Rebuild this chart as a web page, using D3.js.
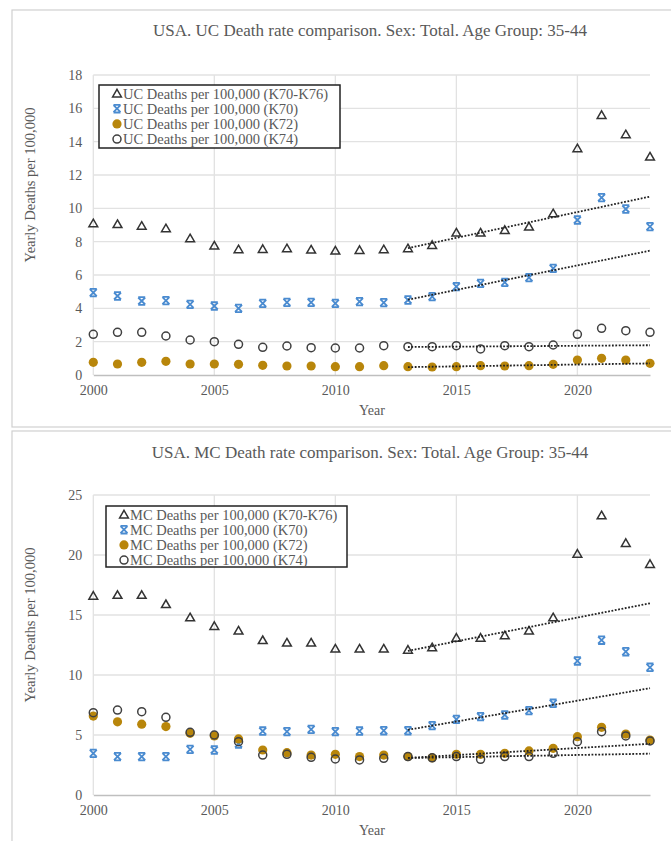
<!DOCTYPE html>
<html>
<head>
<meta charset="utf-8">
<script src="https://cdn.jsdelivr.net/npm/d3@7/dist/d3.min.js"></script>
<style>
  html, body { margin: 0; padding: 0; background: #fff; }
  svg { display: block; }
  text { font-family: "Liberation Serif", "DejaVu Serif", serif; }
</style>
</head>
<body>
<svg id="chart" width="671" height="841"></svg>
<script>
// ---------------- DATA ----------------
const years = [2000,2001,2002,2003,2004,2005,2006,2007,2008,2009,2010,2011,
               2012,2013,2014,2015,2016,2017,2018,2019,2020,2021,2022,2023];

// UC chart
const ucK70K76 = [9.1,9.05,8.95,8.8,8.2,7.76,7.54,7.56,7.6,7.52,7.46,7.5,
                  7.54,7.6,7.8,8.54,8.54,8.7,8.9,9.7,13.6,15.6,14.44,13.1];
const ucK70    = [4.94,4.74,4.44,4.46,4.24,4.14,4.0,4.3,4.36,4.36,4.3,4.4,
                  4.34,4.5,4.7,5.3,5.5,5.56,5.84,6.4,9.3,10.64,9.96,8.9];
const ucK72    = [0.76,0.66,0.76,0.82,0.66,0.66,0.64,0.58,0.54,0.54,0.5,0.5,
                  0.56,0.5,0.48,0.5,0.56,0.54,0.56,0.64,0.9,1.0,0.9,0.7];
const ucK74    = [2.44,2.56,2.56,2.34,2.1,2.0,1.84,1.66,1.74,1.64,1.62,1.62,
                  1.76,1.7,1.7,1.76,1.56,1.76,1.7,1.8,2.44,2.8,2.66,2.56];

// MC chart
const mcK70K76 = [16.6,16.67,16.67,15.9,14.8,14.08,13.7,12.9,12.7,12.7,12.2,12.2,
                  12.2,12.1,12.3,13.1,13.1,13.3,13.7,14.8,20.1,23.3,21.0,19.25];
const mcK70    = [3.47,3.2,3.2,3.2,3.8,3.75,4.25,5.33,5.28,5.47,5.28,5.33,
                  5.36,5.36,5.78,6.3,6.53,6.67,7.03,7.64,11.17,12.9,11.94,10.64];
const mcK72    = [6.58,6.1,5.9,5.7,5.14,4.92,4.67,3.75,3.53,3.33,3.39,3.2,
                  3.33,3.2,3.1,3.39,3.39,3.47,3.67,3.89,4.86,5.64,5.08,4.58];
const mcK74    = [6.86,7.08,6.94,6.47,5.22,5.0,4.44,3.33,3.39,3.14,3.0,2.92,
                  3.06,3.2,3.1,3.2,2.97,3.2,3.2,3.47,4.44,5.28,4.92,4.5];

const xTicks = [2000,2005,2010,2015,2020];
const ucYTicks = [0,2,4,6,8,10,12,14,16,18];
const mcYTicks = [0,5,10,15,20,25];

const ucTitle = "USA. UC Death rate comparison. Sex: Total. Age Group: 35-44";
const mcTitle = "USA. MC Death rate comparison. Sex: Total. Age Group: 35-44";
const ucNames = ["UC Deaths per 100,000 (K70-K76)","UC Deaths per 100,000 (K70)",
                 "UC Deaths per 100,000 (K72)","UC Deaths per 100,000 (K74)"];
const mcNames = ["MC Deaths per 100,000 (K70-K76)","MC Deaths per 100,000 (K70)",
                 "MC Deaths per 100,000 (K72)","MC Deaths per 100,000 (K74)"];
const trendStart = 2013, trendFitEnd = 2019, trendEnd = 2023;

// ---------------- DRAW ----------------
const svg = d3.select("#chart");
const markerKinds = ["triangle","star","dot","circle"];
const BLUE = "#4a8bd0", GOLD = "#b8860b";

function linFit(xs, ys) {
  const n = xs.length, mx = d3.mean(xs), my = d3.mean(ys);
  let num = 0, den = 0;
  for (let i = 0; i < n; i++) { num += (xs[i]-mx)*(ys[i]-my); den += (xs[i]-mx)**2; }
  const b = num/den; return x => my + b*(x-mx);
}

function drawMarker(g, kind, x, y) {
  if (kind === "triangle") {
    g.append("path").attr("d", `M${x},${y-4.2}L${x+4.4},${y+3.4}L${x-4.4},${y+3.4}Z`)
      .attr("fill","none").attr("stroke","#333").attr("stroke-width",1.5);
  } else if (kind === "star") {
    g.append("path").attr("d",
      `M${x-3.5},${y-3.5}L${x+3.5},${y+3.5}M${x+3.5},${y-3.5}L${x-3.5},${y+3.5}` +
      `M${x-3.5},${y-3.8}L${x+3.5},${y-3.8}M${x-3.5},${y+3.8}L${x+3.5},${y+3.8}`)
      .attr("fill","none").attr("stroke",BLUE).attr("stroke-width",1.8);
  } else if (kind === "dot") {
    g.append("circle").attr("cx",x).attr("cy",y).attr("r",4.6).attr("fill",GOLD);
  } else {
    g.append("circle").attr("cx",x).attr("cy",y).attr("r",4).attr("fill","none")
      .attr("stroke","#404040").attr("stroke-width",1.5);
  }
}

function drawChart(cfg) {
  const g = svg.append("g");
  // frame
  g.append("rect").attr("x",cfg.frame[0]).attr("y",cfg.frame[1])
    .attr("width",cfg.frame[2]).attr("height",cfg.frame[3])
    .attr("fill","#fff").attr("stroke","#d0d0d0").attr("stroke-width",1.2);

  const x = d3.scaleLinear().domain([2000,2023]).range([93.3,650]);
  const y = d3.scaleLinear().domain([0,cfg.yMax]).range([cfg.y0,cfg.yTop]);

  // grid
  const grid = g.append("g");
  grid.selectAll(".hg").data(cfg.yTicks.filter(v=>v>0)).join("line")
    .attr("x1",x(2000)).attr("x2",x(2023)).attr("y1",d=>y(d)).attr("y2",d=>y(d))
    .attr("stroke","#e2e2e2").attr("stroke-width",1.3);
  grid.selectAll(".vg").data(xTicks).join("line")
    .attr("x1",d=>x(d)).attr("x2",d=>x(d)).attr("y1",y(0)).attr("y2",y(cfg.yMax))
    .attr("stroke","#e2e2e2").attr("stroke-width",1.3);

  // axes
  const xAxis = g.append("g").attr("transform",`translate(0,${y(0)})`)
    .call(d3.axisBottom(x).tickValues(xTicks).tickFormat(d3.format("d")).tickSize(0).tickPadding(10));
  xAxis.select(".domain").attr("stroke","#bfbfbf").attr("stroke-width",1.3);
  xAxis.selectAll("text").attr("font-size",14).attr("fill","#595959")
    .attr("font-family","'Liberation Serif', serif");
  const yAxis = g.append("g").attr("transform",`translate(${x(2000)},0)`)
    .call(d3.axisLeft(y).tickValues(cfg.yTicks).tickSize(0).tickPadding(11));
  yAxis.select(".domain").remove();
  yAxis.selectAll("text").attr("font-size",14).attr("fill","#595959")
    .attr("font-family","'Liberation Serif', serif");

  // title and axis labels
  g.append("text").attr("x",370).attr("y",cfg.titleY).attr("text-anchor","middle")
    .attr("font-size",17).attr("fill","#595959").text(cfg.title);
  g.append("text").attr("x",372).attr("y",cfg.xLabY).attr("text-anchor","middle")
    .attr("font-size",14).attr("fill","#595959").text("Year");
  g.append("text").attr("transform",`translate(35,${cfg.yLabC}) rotate(-90)`)
    .attr("text-anchor","middle").attr("font-size",14.5).attr("fill","#595959")
    .text("Yearly Deaths per 100,000");

  // markers
  const mk = g.append("g");
  cfg.series.forEach((s,i) => {
    years.forEach((yr,j) => drawMarker(mk, markerKinds[i], x(yr), y(s[j])));
  });

  // trendlines (fit on trendStart..trendFitEnd, extended to trendEnd)
  const tg = g.append("g");
  cfg.series.forEach(s => {
    const xs = [], ys = [];
    years.forEach((yr,j) => { if (yr>=trendStart && yr<=trendFitEnd) { xs.push(yr); ys.push(s[j]); } });
    const f = linFit(xs, ys);
    tg.append("line").attr("x1",x(trendStart)).attr("y1",y(f(trendStart)))
      .attr("x2",x(trendEnd)).attr("y2",y(f(trendEnd)))
      .attr("stroke","#222").attr("stroke-width",1.8).attr("stroke-dasharray","1.8,1.6");
  });

  // legend
  const L = cfg.legend;
  const lg = g.append("g");
  lg.append("rect").attr("x",L[0]).attr("y",L[1]).attr("width",L[2]).attr("height",L[3])
    .attr("fill","#fff").attr("stroke","#222").attr("stroke-width",1.5);
  cfg.names.forEach((nm,i) => {
    const cy = L[1] + 8.5 + i*15.2;
    drawMarker(lg, markerKinds[i], L[0]+18, cy);
    lg.append("text").attr("x",L[0]+24).attr("y",cy).attr("dy","0.35em")
      .attr("font-size",14.5).attr("fill","#595959").text(nm);
  });
}

drawChart({
  frame:[12,10,700,417], yMax:18, y0:375, yTop:75, yTicks:ucYTicks,
  title:ucTitle, titleY:36, xLabY:415, yLabC:185,
  series:[ucK70K76,ucK70,ucK72,ucK74], names:ucNames,
  legend:[99,85,241,63]
});
drawChart({
  frame:[12,431,700,430], yMax:25, y0:795, yTop:495, yTicks:mcYTicks,
  title:mcTitle, titleY:458, xLabY:835, yLabC:625,
  series:[mcK70K76,mcK70,mcK72,mcK74], names:mcNames,
  legend:[106,506,241,61]
});
</script>
</body>
</html>
